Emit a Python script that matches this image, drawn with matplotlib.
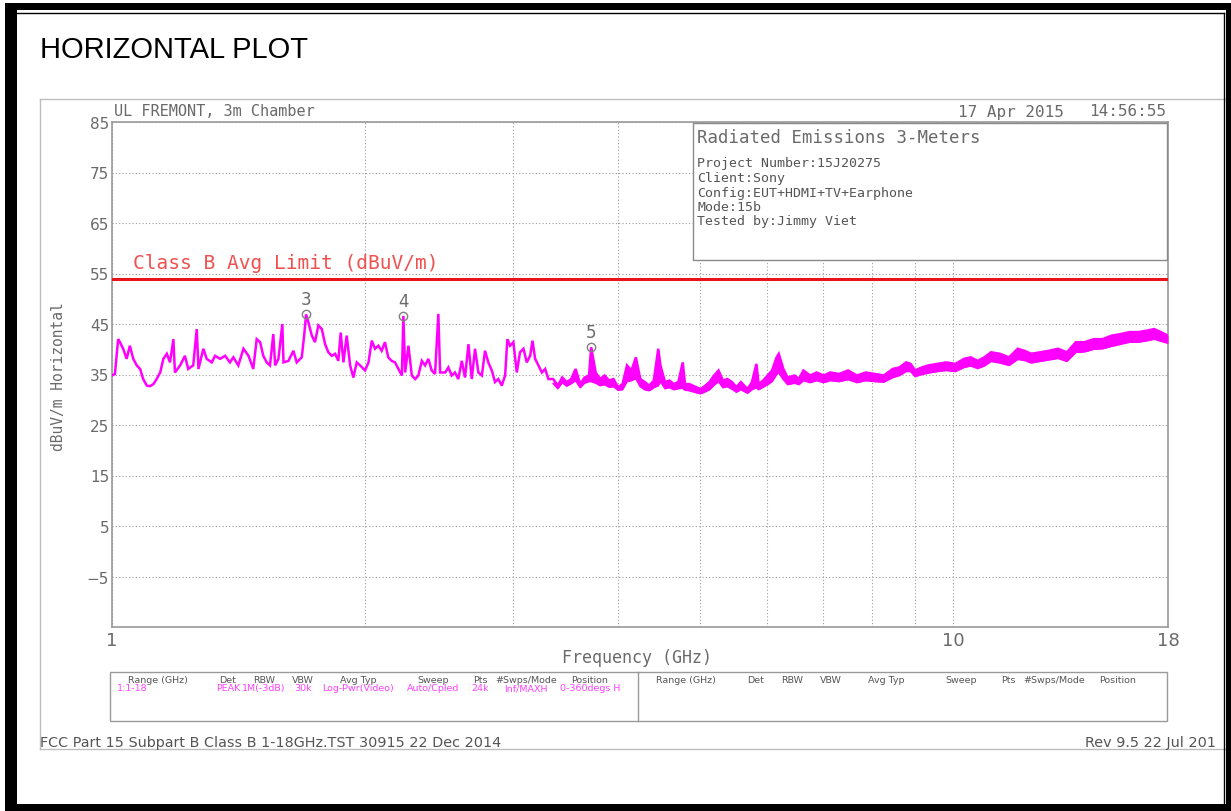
import matplotlib
matplotlib.use("Agg")
import matplotlib.pyplot as plt
from matplotlib.patches import Rectangle
from matplotlib.ticker import FixedLocator, NullFormatter
from matplotlib import font_manager

# ---- measured trace: 1-3.3 GHz ----
freq_low_ghz = [1.000, 1.008, 1.017, 1.022, 1.031, 1.041, 1.050, 1.060, 1.070, 1.080,
                1.089, 1.100, 1.110, 1.120, 1.130, 1.141, 1.151, 1.162, 1.172, 1.183,
                1.188, 1.205, 1.221, 1.232, 1.249, 1.261, 1.267, 1.284, 1.296, 1.314,
                1.326, 1.344, 1.363, 1.381, 1.394, 1.413, 1.433, 1.453, 1.472, 1.486,
                1.500, 1.513, 1.527, 1.541, 1.555, 1.563, 1.577, 1.594, 1.599, 1.621,
                1.643, 1.658, 1.681, 1.692, 1.701, 1.712, 1.728, 1.743, 1.759, 1.776,
                1.792, 1.808, 1.825, 1.842, 1.858, 1.870, 1.884, 1.901, 1.919, 1.936,
                1.954, 1.972, 1.999, 2.018, 2.036, 2.054, 2.073, 2.092, 2.111, 2.130,
                2.150, 2.170, 2.190, 2.211, 2.220, 2.231, 2.251, 2.272, 2.293, 2.313,
                2.335, 2.356, 2.377, 2.399, 2.421, 2.443, 2.455, 2.489, 2.511, 2.534,
                2.557, 2.580, 2.605, 2.628, 2.653, 2.677, 2.701, 2.726, 2.752, 2.776,
                2.801, 2.828, 2.853, 2.879, 2.906, 2.933, 2.951, 2.973, 3.000, 3.028,
                3.055, 3.084, 3.112, 3.141, 3.161, 3.184, 3.213, 3.243, 3.273, 3.302]
level_low = [34.8, 35.1, 42.0, 41.4, 40.1, 38.1, 40.7, 38.1, 36.8, 36.1,
             34.1, 32.8, 32.7, 33.1, 34.1, 35.4, 38.1, 39.1, 37.4, 42.0,
             35.4, 36.8, 38.7, 36.1, 36.8, 44.0, 36.1, 40.1, 38.1, 37.4,
             38.7, 38.1, 38.7, 37.4, 38.4, 36.8, 40.1, 38.7, 36.1, 42.0,
             41.4, 38.7, 37.4, 36.8, 43.0, 36.8, 38.1, 45.0, 37.4, 37.7,
             39.7, 37.4, 38.4, 42.7, 46.9, 45.3, 42.7, 41.4, 44.7, 44.0,
             41.0, 39.4, 38.7, 39.1, 37.7, 43.3, 37.4, 42.7, 36.8, 34.4,
             37.4, 36.8, 35.8, 37.4, 41.7, 40.1, 40.7, 39.7, 41.4, 38.4,
             37.7, 37.4, 36.1, 34.8, 46.6, 35.4, 40.7, 34.8, 34.1, 34.8,
             37.7, 36.8, 38.1, 35.8, 35.1, 47.0, 35.4, 35.4, 36.4, 34.8,
             35.4, 34.1, 37.7, 34.4, 41.0, 34.1, 40.1, 35.4, 34.8, 39.7,
             37.4, 35.8, 33.5, 34.1, 32.8, 34.8, 42.0, 40.7, 41.4, 35.4,
             39.4, 40.1, 37.4, 38.7, 41.7, 38.1, 36.8, 35.4, 36.1, 34.1]

# ---- measured trace: 3.3-18 GHz (band top and band floor) ----
freq_high_ghz = [3.346, 3.388, 3.429, 3.472, 3.514, 3.557, 3.602, 3.645, 3.690, 3.712,
                 3.758, 3.804, 3.850, 3.899, 3.946, 3.995, 4.045, 4.094, 4.145, 4.195,
                 4.246, 4.298, 4.352, 4.406, 4.460, 4.487, 4.543, 4.598, 4.655, 4.712,
                 4.769, 4.799, 4.857, 4.947, 5.008, 5.073, 5.132, 5.196, 5.260, 5.324,
                 5.390, 5.458, 5.523, 5.592, 5.694, 5.764, 5.835, 5.870, 5.943, 6.016,
                 6.090, 6.166, 6.203, 6.281, 6.356, 6.476, 6.554, 6.636, 6.758, 6.883,
                 7.011, 7.140, 7.316, 7.499, 7.682, 7.873, 8.068, 8.268, 8.474, 8.630,
                 8.790, 8.899, 9.008, 9.176, 9.344, 9.575, 9.813, 10.06, 10.30, 10.49,
                 10.69, 10.89, 11.09, 11.36, 11.65, 11.93, 12.15, 12.38, 12.68, 13.00,
                 13.32, 13.65, 13.99, 14.33, 14.69, 15.05, 15.43, 15.81, 16.20, 16.60,
                 17.01, 17.33, 17.65, 18.0]
level_high = [34.1, 32.8, 34.4, 33.5, 34.1, 36.1, 33.1, 34.4, 34.8, 40.4,
              35.4, 34.1, 34.8, 33.8, 34.1, 32.5, 33.1, 36.8, 35.8, 38.4,
              34.1, 33.5, 32.8, 33.8, 40.1, 36.8, 33.5, 33.8, 33.1, 33.5,
              37.4, 33.1, 33.1, 32.5, 32.1, 32.8, 33.5, 34.8, 35.8, 33.8,
              34.1, 33.5, 32.5, 33.5, 32.1, 33.5, 37.1, 33.1, 33.8, 34.8,
              35.8, 38.4, 39.1, 36.1, 34.4, 34.8, 34.1, 35.8, 34.8, 35.4,
              34.8, 35.4, 35.1, 35.8, 34.8, 35.4, 35.1, 34.8, 36.1, 36.4,
              37.4, 37.1, 35.8, 36.4, 36.8, 37.1, 37.4, 37.1, 38.1, 38.4,
              37.7, 38.4, 39.4, 39.1, 38.4, 40.1, 39.7, 39.1, 39.4, 39.7,
              40.1, 39.4, 41.4, 41.4, 42.0, 42.0, 42.7, 43.0, 43.4, 43.4,
              43.7, 44.0, 43.4, 42.7]
level_high_floor = [33.2, 32.2, 33.4, 32.7, 33.2, 33.8, 32.4, 33.3, 33.6, 33.6,
                    33.3, 32.8, 33.0, 32.5, 32.6, 31.9, 32.0, 33.6, 33.8, 34.2,
                    32.6, 32.0, 31.8, 32.4, 32.8, 33.6, 32.2, 32.4, 32.0, 32.2,
                    32.3, 31.9, 31.8, 31.4, 31.2, 31.6, 32.0, 32.9, 33.6, 32.4,
                    32.6, 32.1, 31.5, 32.0, 31.3, 32.0, 32.4, 32.0, 32.5, 33.0,
                    33.6, 35.0, 35.4, 34.0, 33.0, 33.3, 33.0, 33.8, 33.4, 33.8,
                    33.4, 33.8, 33.6, 34.0, 33.4, 33.8, 33.6, 33.5, 34.4, 34.8,
                    35.6, 35.6, 34.6, 35.0, 35.3, 35.6, 35.8, 35.6, 36.4, 36.7,
                    36.2, 36.7, 37.6, 37.3, 36.8, 38.0, 37.8, 37.3, 37.6, 37.9,
                    38.2, 37.6, 39.4, 39.5, 40.0, 40.1, 40.6, 41.0, 41.4, 41.4,
                    41.7, 42.0, 41.6, 41.2]

# ---- limit and markers ----
limit_level = 54.0
limit_label = "Class B Avg Limit (dBuV/m)"
marker_ids = ["3", "4", "5"]
marker_freq_ghz = [1.701, 2.220, 3.712]
marker_level = [46.9, 46.6, 40.4]

# ---- axes labelling ----
y_ticks = [85, 75, 65, 55, 45, 35, 25, 15, 5, -5]
x_ticks = [1, 10, 18]
x_minor = [2, 3, 4, 5, 6, 7, 8, 9]

# ---- information block and settings table ----
info_title = "Radiated Emissions 3-Meters"
info_lines = ["Project Number:15J20275", "Client:Sony",
              "Config:EUT+HDMI+TV+Earphone", "Mode:15b", "Tested by:Jimmy Viet"]
table_headers = ["Range (GHz)", "Det", "RBW", "VBW", "Avg Typ", "Sweep",
                 "Pts", "#Swps/Mode", "Position"]
table_values = ["1:1-18", "PEAK", "1M(-3dB)", "30k", "Log-Pwr(Video)",
                "Auto/Cpled", "24k", "Inf/MAXH", "0-360degs H"]

W, H = 1231, 812
GRAY = "#6a6a6a"
MONO = "DejaVu Sans Mono"
MAGENTA = "#ff00ff"

installed = {f.name for f in font_manager.fontManager.ttflist}
NARROW = "Liberation Sans Narrow" if "Liberation Sans Narrow" in installed else "DejaVu Sans"

fig = plt.figure(figsize=(W / 100, H / 100), dpi=100)
fig.patch.set_facecolor("white")


def frac_rect(x0, y0, x1, y1):
    return [x0 / W, 1 - y1 / H, (x1 - x0) / W, (y1 - y0) / H]


# page layer in pixel units
page = fig.add_axes([0, 0, 1, 1], zorder=0)
page.set_xlim(0, W)
page.set_ylim(H, 0)
page.axis("off")

page.text(40, 50, "HORIZONTAL PLOT", fontsize=21, family="Liberation Sans",
          color="black", va="center", ha="left")

# light frame of the analyser printout
frame_c = "#bdbdbd"
page.plot([40, 1226], [100, 100], color=frame_c, lw=1)
page.plot([40, 40], [100, 750], color=frame_c, lw=1)
page.plot([40, 1226], [750, 750], color=frame_c, lw=1)

page.text(114, 112, "UL FREMONT, 3m Chamber", family=MONO, fontsize=11,
          color=GRAY, va="center", ha="left")
page.text(958, 112, "17 Apr 2015", family=MONO, fontsize=11.5,
          color=GRAY, va="center", ha="left")
page.text(1166, 112, "14:56:55", family=MONO, fontsize=11.5,
          color=GRAY, va="center", ha="right")

page.text(59, 377, "dBuV/m Horizontal", family=MONO, fontsize=10.5,
          color=GRAY, rotation=90, va="center", ha="center")
page.text(637, 658, "Frequency (GHz)", family=MONO, fontsize=12,
          color=GRAY, va="center", ha="center")

# settings table (two identical halves)
page.add_patch(Rectangle((110, 673), 1057, 49, fill=False, ec="#9a9a9a", lw=1))
page.plot([638, 638], [673, 722], color="#9a9a9a", lw=1)
col_x_left = [158, 228, 264, 303, 358, 433, 480, 526, 590]
half_shift = 528
for hx, txt in zip(col_x_left, table_headers):
    page.text(hx, 681, txt, family=NARROW, fontsize=6.8, color="#555",
              ha="center", va="center")
    page.text(hx + half_shift, 681, txt, family=NARROW, fontsize=6.8,
              color="#555", ha="center", va="center")
for i, (hx, txt) in enumerate(zip(col_x_left, table_values)):
    if i == 0:
        page.text(117, 689, txt, family=NARROW, fontsize=6.8, color="#ff40ff",
                  ha="left", va="center")
    else:
        page.text(hx, 689, txt, family=NARROW, fontsize=6.8, color="#ff40ff",
                  ha="center", va="center")

page.text(40, 743, "FCC Part 15 Subpart B Class B 1-18GHz.TST 30915 22 Dec 2014",
          family=NARROW, fontsize=10.4, color="#555", ha="left", va="center")
page.text(1085, 743, "Rev 9.5 22 Jul 201", family=NARROW, fontsize=10.4,
          color="#555", ha="left", va="center")

# ---- spectrum axes ----
ax = fig.add_axes(frac_rect(112, 123, 1168, 628), zorder=1)
ax.set_facecolor("none")
ax.set_xscale("log")
ax.set_xlim(1, 18)
ax.set_ylim(-15, 85)
ax.set_yticks(y_ticks)
ax.set_yticklabels([("\u2212" + str(-t)) if t < 0 else str(t) for t in y_ticks])
ax.set_xticks(x_ticks)
ax.set_xticklabels([str(t) for t in x_ticks])
ax.xaxis.set_minor_locator(FixedLocator(x_minor))
ax.xaxis.set_minor_formatter(NullFormatter())
ax.tick_params(axis="both", which="both", length=0, colors=GRAY)
ax.tick_params(axis="y", labelsize=11, pad=2)
ax.tick_params(axis="x", labelsize=13, pad=3)
for s in ax.spines.values():
    s.set_color("#999999")
    s.set_linewidth(1.2)
grid_kw = dict(color="#9c9c9c", lw=0.8, linestyle=(0, (1, 2)))
ax.grid(True, which="both", axis="x", **grid_kw)
ax.grid(True, which="major", axis="y", **grid_kw)
ax.set_axisbelow(True)

ax.axhline(limit_level, color="#e8141b", lw=2.2, zorder=3)
ax.text(1.058, 57.1, limit_label, family=MONO, fontsize=14, color="#f05050",
        va="center", ha="left", zorder=3)

# peak trace, with the dense max-hold band filled above 3.3 GHz
ax.plot(freq_low_ghz + freq_high_ghz, level_low + level_high, color=MAGENTA,
        lw=1.8, solid_joinstyle="miter", zorder=4)
ax.fill_between(freq_high_ghz, level_high_floor, level_high, color=MAGENTA,
                lw=0, zorder=4)
ax.plot(freq_high_ghz, level_high_floor, color=MAGENTA, lw=1.2, zorder=4)

ax.plot(marker_freq_ghz, marker_level, "o", mfc="none", mec="#808080",
        ms=6, mew=1, zorder=5)
for mid, f, lv in zip(marker_ids, marker_freq_ghz, marker_level):
    ax.annotate(mid, (f, lv), xytext=(0, 11), textcoords="offset points",
                ha="center", va="center", fontsize=12, color=GRAY, zorder=5)

# ---- overlay: information block and page border ----
over = fig.add_axes([0, 0, 1, 1], zorder=3)
over.set_xlim(0, W)
over.set_ylim(H, 0)
over.axis("off")
over.patch.set_alpha(0)

over.add_patch(Rectangle((693, 124), 474, 137, fc="white", ec="#8a8a8a", lw=1))
over.text(697, 138, info_title, family=MONO, fontsize=12.5, color=GRAY,
          va="center", ha="left")
for k, line in enumerate(info_lines):
    over.text(697, 164 + 14.5 * k, line, family=MONO, fontsize=9.5, color="#555",
              va="center", ha="left")

# heavy black page border with thin inner rule
blk = "black"
over.add_patch(Rectangle((5, 4), W - 5, 7, fc=blk, ec="none"))
over.add_patch(Rectangle((5, 4), 12, H - 4, fc=blk, ec="none"))
over.add_patch(Rectangle((1226, 4), 5, H - 4, fc=blk, ec="none"))
over.add_patch(Rectangle((5, 805), W - 5, 7, fc=blk, ec="none"))
over.plot([17, 1223.5], [13.5, 13.5], color=blk, lw=1)
over.plot([1223.5, 1223.5], [13.5, 805], color=blk, lw=1)

fig.savefig("out.png", dpi=100, facecolor="white")
